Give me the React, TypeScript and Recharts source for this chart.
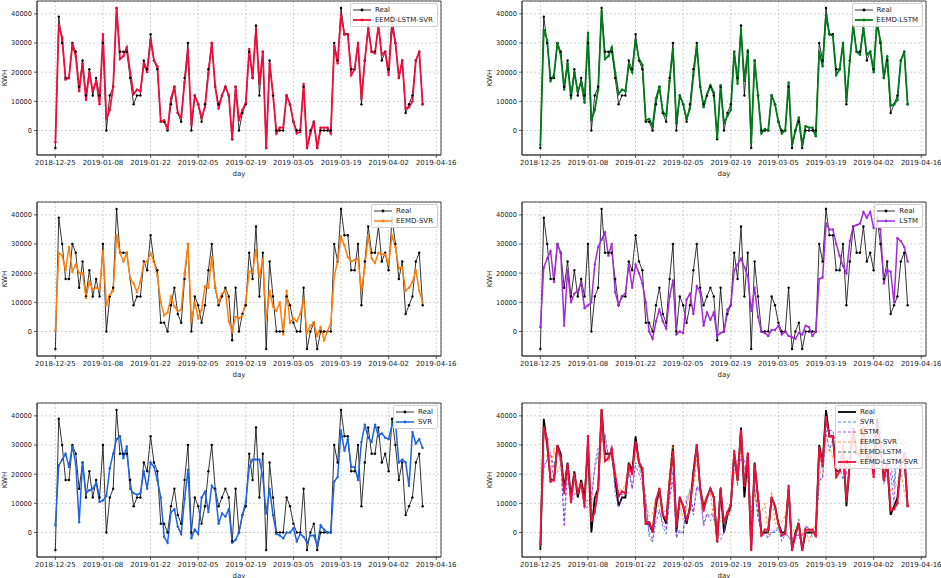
import React from 'react';
import {
  LineChart,
  Line,
  XAxis,
  YAxis,
  CartesianGrid,
  Legend,
  ReferenceArea,
} from 'recharts';

// daily load, 2018-12-25 .. 2019-04-12
const realKwh = [
  -6000, 39000, 30000, 18000, 18000, 30000, 27000, 15000, 24000, 12000,
  21000, 12000, 18000, 12000, 30000, 0, 12000, 15000, 42000, 27000,
  27000, 27000, 18000, 9000, 12000, 12000, 24000, 21000, 33000, 24000,
  21000, 3000, 3000, 0, 9000, 15000, 6000, 3000, 18000, 30000,
  0, 12000, 9000, 3000, 9000, 21000, 30000, 15000, 9000, 12000,
  15000, 12000, -3000, 15000, 0, 6000, 9000, 27000, 18000, 36000,
  12000, 27000, -6000, 24000, 12000, 0, 0, 0, 12000, 9000,
  3000, 0, 0, 15000, -6000, 0, 3000, -6000, 0, 0,
  0, 0, 30000, 24000, 42000, 33000, 33000, 21000, 21000, 30000,
  9000, 24000, 36000, 27000, 27000, 36000, 24000, 27000, 21000, 39000,
  30000, 18000, 24000, 6000, 9000, 12000, 24000, 27000, 9000,
];

const eemdLstmSvrKwh = [
  -4000, 36000, 32000, 17500, 18000, 29500, 25500, 13500, 23000, 10500,
  20000, 13500, 17000, 9000, 33000, 4000, 7000, 15000, 42000, 24500,
  25500, 28500, 20000, 12500, 14000, 13500, 23000, 20000, 31000, 24000,
  22000, 3000, 3500, 500, 11000, 15000, 6000, 4500, 16500, 27500,
  2000, 12000, 9000, 4500, 8000, 19500, 30000, 15000, 7500, 12000,
  15000, 12000, -3000, 15000, 3500, 7000, 9500, 28000, 18000, 35000,
  16000, 27000, -6000, 23000, 12500, -1000, 1000, 1000, 12000, 9000,
  3000, -1000, -500, 16000, -6000, -1000, 3000, -6000, 1000, 1000,
  1000, -1000, 29000, 23000, 39500, 33000, 33000, 19000, 21000, 30000,
  11000, 24000, 35000, 27000, 26500, 36000, 26000, 27000, 19000, 36000,
  30000, 18000, 24000, 7500, 8000, 10000, 24000, 27000, 9000,
];

const eemdLstmKwh = [
  -5000, 34500, 31000, 17000, 19000, 30000, 26000, 14000, 23000, 11000,
  20000, 13500, 16500, 9500, 33500, 3500, 7000, 14000, 41000, 24500,
  25500, 28500, 20000, 12500, 14000, 13500, 22500, 20000, 31000, 24500,
  22500, 3500, 4000, 1500, 11000, 15000, 6500, 5000, 17000, 28000,
  2500, 12000, 9000, 4000, 7500, 19000, 29000, 15000, 8000, 12500,
  15500, 13000, -2500, 15500, 2500, 5000, 7000, 27000, 16000, 34500,
  17000, 27500, -4000, 24000, 12000, -1000, 500, 0, 12000, 9000,
  3000, -1000, 0, 16500, -5000, 0, 4500, -5000, 1500, 1000,
  1000, -2000, 27000, 22000, 39500, 33000, 32500, 19000, 21000, 30000,
  10000, 24000, 36000, 27000, 26000, 35000, 26000, 27000, 20000, 37000,
  30500, 18000, 25500, 8500, 9000, 10500, 24000, 27000, 9000,
];

const eemdSvrKwh = [
  500, 27000, 26000, 21000, 29000, 20500, 23000, 20000, 20000, 11500,
  17000, 14500, 15000, 14500, 27500, 9000, 12500, 14000, 33000, 27000,
  24000, 27000, 18000, 16500, 13500, 17000, 23500, 24000, 26800, 24000,
  19000, 10000, 5500, 6500, 12000, 8500, 7000, 7500, 20000, 30000,
  3500, 10000, 4500, 7500, 15500, 15000, 25500, 15000, 10000, 13000,
  14000, 3500, 0, 5000, 4500, 5500, 10500, 20500, 20500, 28000,
  18500, 25000, 4000, 14000, 8500, 7000, 10000, -1000, 14000, 3000,
  4500, 3500, 6000, 11000, -500, 2000, 3000, -1500, 1500, -3000,
  0, 3000, 19000, 24000, 32500, 29500, 25500, 24000, 24500, 25000,
  14000, 22000, 33000, 25000, 23500, 27000, 26500, 26500, 23000, 33000,
  29000, 21500, 22000, 14000, 15000, 17000, 21000, 14000, 10000,
];

const lstmKwh = [
  1500, 22000, 25000, 27500, 17000, 30000, 27000, 2000, 21000, 10000,
  13000, 14000, 16500, 8000, 9000, 10000, 23000, 29000, 31500, 34000,
  26000, 30000, 13500, 9000, 12000, 13000, 23000, 15000, 23000, 20000,
  16500, 10000, 0, -2500, 3500, 7500, 3500, 1000, 12000, 17500,
  -1000, 0, -500, 11000, 13000, 6000, 15500, 13500, 2000, 6500,
  4000, 6500, -1500, -500, 0, 7500, 9000, 21000, 23000, 25000,
  22000, 19000, 7000, 15000, 5000, 0, -500, -1500, 500, 500,
  2000, -1000, 0, -1500, -2000, -2500, -500, -1000, 2000, 1500,
  -1500, 0, 18000, 18500, 37000, 35000, 35000, 30000, 26000, 22500,
  20000, 31000, 36000, 36500, 37000, 41000, 39000, 41000, 35500, 37000,
  35000, 16500, 21000, 20500, 10000, 32000, 31000, 29000, 24000,
];

const svrKwh = [
  2500, 23000, 25000, 27000, 22500, 29500, 23500, 3500, 24000, 13500,
  14500, 15000, 17000, 10500, 11000, 12500, 22000, 27000, 32000, 33000,
  25500, 29500, 15000, 13500, 13000, 13500, 21000, 15000, 24000, 22500,
  18000, 12000, -1500, -3500, 7000, 8000, 2000, -500, 11500, 21500,
  -2000, 1000, -500, 12000, 14000, 7000, 16000, 14500, 3000, 6500,
  5500, 8000, -3500, -2500, 0, 6000, 10500, 22500, 25000, 25000,
  25000, 19000, 6500, 15000, 6000, -500, -1000, -2000, 0, 0,
  1500, -3000, -500, -1500, -3500, -1000, -1000, -4500, 2500, 1000,
  0, 0, 17500, 19000, 35000, 28000, 32000, 22500, 22500, 18000,
  31000, 37000, 32500, 31000, 37000, 33000, 34000, 32500, 32000, 37000,
  38000, 24000, 25000, 24000, 16000, 34500, 30500, 32000, 29000,
];

const dayTicks = [0, 14, 28, 42, 56, 70, 84, 98, 112];
const dayTickLabels = [
  '2018-12-25', '2019-01-08', '2019-01-22', '2019-02-05', '2019-02-19',
  '2019-03-05', '2019-03-19', '2019-04-02', '2019-04-16',
];
const kwhTicks = [0, 10000, 20000, 30000, 40000];

const rows = realKwh.map((v, i) => ({
  day: i,
  real: v,
  svr: svrKwh[i],
  lstm: lstmKwh[i],
  eemdSvr: eemdSvrKwh[i],
  eemdLstm: eemdLstmKwh[i],
  eemdLstmSvr: eemdLstmSvrKwh[i],
}));

const FONT = 'DejaVu Sans';
const TXT = '#222';
const xDomain = [-5.4, 113.4];
const yDomain = [-8400, 44400];

const colors = {
  real: '#000000',
  svr: '#1f63e0',
  lstm: '#a52bd8',
  eemdSvr: '#ff7f0e',
  eemdLstm: '#007a1a',
  eemdLstmSvr: '#ee0f3c',
};

const names = {
  real: 'Real',
  svr: 'SVR',
  lstm: 'LSTM',
  eemdSvr: 'EEMD-SVR',
  eemdLstm: 'EEMD-LSTM',
  eemdLstmSvr: 'EEMD-LSTM-SVR',
};

type SeriesKey = keyof typeof colors;

type SeriesStyle = {
  key: SeriesKey;
  width: number;
  dash?: string;
  dot: boolean;
};

const W = 460;
const H = 185;

const KwhLabel = (props: any) => {
  const vb = props.viewBox || {};
  const x = (vb.x ?? 0) + 5;
  const y = (vb.y ?? 0) + (vb.height ?? 0) / 2;
  return (
    <text x={x} y={y} transform={`rotate(-90 ${x} ${y})`} textAnchor="middle"
      dominantBaseline="middle" fontSize={7} fontFamily={FONT} fill={TXT}>
      KWH
    </text>
  );
};

const DayLabel = (props: any) => {
  const vb = props.viewBox || {};
  return (
    <text x={(vb.x ?? 0) + (vb.width ?? 0) / 2} y={(vb.y ?? 0) + 21}
      textAnchor="middle" fontSize={7} fontFamily={FONT} fill={TXT}>
      day
    </text>
  );
};

const LegendBox = ({ series }: { series: SeriesStyle[] }) => (
  <div style={{
    border: '1px solid #d0d0d0', borderRadius: 2, background: 'rgba(255,255,255,0.85)',
    padding: '1px 4px 1px 2px', fontFamily: FONT, fontSize: 7, color: TXT,
  }}>
    {series.map((s) => (
      <div key={s.key} style={{ display: 'flex', alignItems: 'center', height: 10 }}>
        <svg width={18} height={6} style={{ marginRight: 4 }}>
          <line x1={0} y1={3} x2={18} y2={3} stroke={colors[s.key]}
            strokeWidth={s.width} strokeDasharray={s.dash} />
          {s.dot && <circle cx={9} cy={3} r={1.4} fill={colors[s.key]} />}
        </svg>
        <span style={{ whiteSpace: 'nowrap', lineHeight: '10px' }}>{names[s.key]}</span>
      </div>
    ))}
  </div>
);

const Panel = ({ left, top, series }: { left: number; top: number; series: SeriesStyle[] }) => (
  <div style={{ position: 'absolute', left, top, width: W, height: H }}>
    <LineChart width={W} height={H} data={rows} margin={{ top: 1, right: 19, bottom: 0, left: 0 }}>
      <CartesianGrid stroke="#bdbdbd" strokeDasharray="2 2" strokeWidth={0.7} />
      <XAxis dataKey="day" type="number" domain={xDomain} allowDataOverflow ticks={dayTicks}
        tickFormatter={(v: number) => dayTickLabels[dayTicks.indexOf(v)]}
        height={30} tickSize={3} tickMargin={2} interval={0}
        axisLine={{ stroke: '#333', strokeWidth: 0.8 }} tickLine={{ stroke: '#333', strokeWidth: 0.8 }}
        tick={{ fontSize: 7, fontFamily: FONT, fill: TXT }} label={<DayLabel />} />
      <YAxis type="number" domain={yDomain} allowDataOverflow ticks={kwhTicks} interval={0}
        width={37} tickSize={3} tickMargin={2}
        axisLine={{ stroke: '#333', strokeWidth: 0.8 }} tickLine={{ stroke: '#333', strokeWidth: 0.8 }}
        tick={{ fontSize: 6.6, fontFamily: FONT, fill: TXT }} label={<KwhLabel />} />
      {series.map((s) => (
        <Line key={s.key} type="linear" dataKey={s.key} name={names[s.key]}
          stroke={colors[s.key]} strokeWidth={s.width} strokeDasharray={s.dash}
          dot={s.dot ? { r: 1.2, fill: colors[s.key], stroke: 'none' } : false}
          activeDot={false} isAnimationActive={false} />
      ))}
      <ReferenceArea x1={xDomain[0]} x2={xDomain[1]} y1={yDomain[0]} y2={yDomain[1]}
        ifOverflow="visible" fill="none" fillOpacity={0} stroke="#333" strokeWidth={0.9} />
      <Legend layout="horizontal" verticalAlign="middle" align="center"
        wrapperStyle={{ top: 3, right: 22, left: 'auto', width: 'auto', height: 'auto' }}
        content={() => <LegendBox series={series} />} />
    </LineChart>
  </div>
);

const realThin: SeriesStyle = { key: 'real', width: 0.8, dot: true };

const panels: { left: number; top: number; series: SeriesStyle[] }[] = [
  { left: 0, top: 0, series: [realThin, { key: 'eemdLstmSvr', width: 1.8, dot: true }] },
  { left: 485, top: 0, series: [realThin, { key: 'eemdLstm', width: 1.8, dot: true }] },
  { left: 0, top: 201, series: [realThin, { key: 'eemdSvr', width: 1.5, dot: true }] },
  { left: 485, top: 201, series: [realThin, { key: 'lstm', width: 1.5, dot: true }] },
  { left: 0, top: 401.5, series: [realThin, { key: 'svr', width: 1.5, dot: true }] },
  {
    left: 485, top: 401.5, series: [
      { key: 'real', width: 1.8, dot: false },
      { key: 'svr', width: 0.8, dash: '3 2', dot: false },
      { key: 'lstm', width: 0.8, dash: '3 2', dot: false },
      { key: 'eemdSvr', width: 0.8, dash: '3 2', dot: false },
      { key: 'eemdLstm', width: 0.8, dash: '3 2', dot: false },
      { key: 'eemdLstmSvr', width: 1.8, dot: true },
    ],
  },
];

export default function App() {
  return (
    <div style={{ position: 'absolute', left: 0, top: 0, width: 941, height: 578, overflow: 'hidden', background: '#fff' }}>
      {panels.map((p, i) => (
        <Panel key={i} left={p.left} top={p.top} series={p.series} />
      ))}
    </div>
  );
}
